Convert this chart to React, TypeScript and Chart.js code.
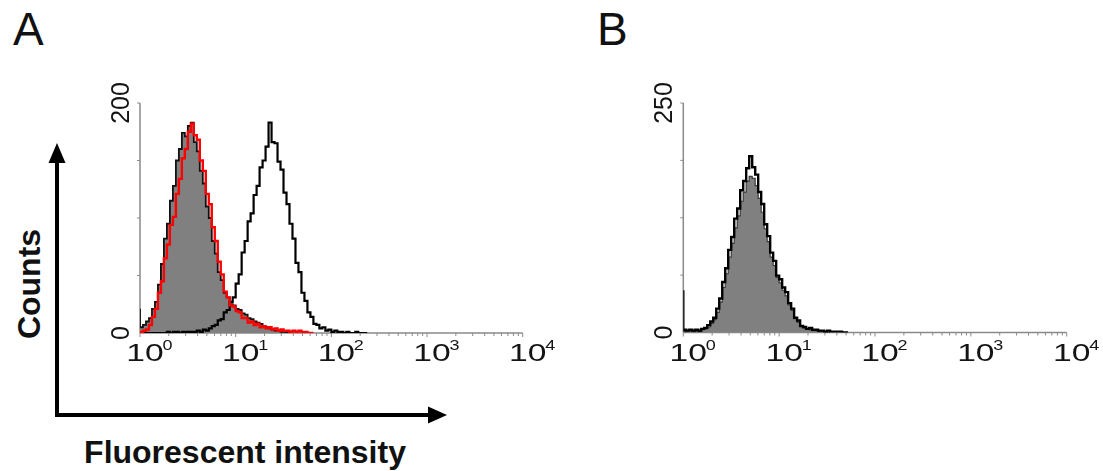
import { useEffect, useRef } from "react";
import { Chart, registerables } from "chart.js";

Chart.register(...registerables);

// Histogram channels: 32 bins per decade, starting at 10^0.
const BINS_PER_DECADE = 32;
const DECADE_VALUES = [1, 10, 100, 1000, 10000];
const DECADE_EXPONENTS = ["0", "1", "2", "3", "4"];

// Panel A
const A_Y_MAX = 200;
const A_FILLED = [
  21, 5, 7, 10, 13, 21, 27, 42, 60, 82, 95, 115, 128, 150, 160, 174, 171, 180, 183, 166,
  158, 141, 130, 110, 100, 80, 69, 53, 46, 35, 31, 25, 24, 21, 20, 17, 16, 13, 12, 10,
  9, 8, 6, 5, 4, 3, 2, 2, 1, 1, 0,
];
const A_RED = [
  1, 1, 2, 3, 7, 14, 21, 35, 45, 65, 77, 94, 101, 121, 134, 152, 160, 175, 182, 172,
  168, 150, 141, 121, 112, 92, 80, 62, 51, 36, 31, 24, 23, 19, 18, 13, 13, 9, 10, 7,
  8, 5, 6, 4, 5, 3, 4, 2, 3, 2, 2, 1, 2, 1, 2, 1, 1, 0,
];
const A_OPEN = [
  0, 0, 0, 0, 0, 0, 0, 0, 0, 0, 1, 0, 1, 1, 0, 1, 1, 1, 1, 1,
  2, 1, 3, 2, 4, 6, 7, 11, 12, 18, 20, 27, 31, 43, 51, 70, 80, 97, 104, 120,
  128, 144, 150, 162, 183, 166, 165, 149, 142, 122, 112, 95, 82, 61, 53, 35, 28, 18, 14, 8,
  7, 4, 5, 2, 3, 1, 2, 1, 1, 0, 1, 0, 0, 1, 0, 0,
];

// Panel B
const B_Y_MAX = 250;
const B_FILLED = [
  0, 1, 2, 2, 1, 2, 1, 3, 4, 6, 10, 14, 22, 33, 49, 64, 82, 97, 114, 127,
  143, 153, 165, 170, 168, 160, 146, 131, 113, 99, 82, 73, 60, 54, 46, 40, 30, 24, 15, 11,
  7, 5, 4, 3, 2, 2, 1, 1, 0,
];
const B_OPEN = [
  46, 3, 2, 3, 2, 3, 2, 4, 5, 8, 12, 16, 26, 37, 55, 70, 90, 104, 124, 135,
  155, 165, 179, 192, 180, 172, 153, 140, 118, 105, 87, 78, 62, 58, 49, 44, 32, 26, 16, 13,
  7, 6, 4, 5, 3, 3, 2, 2, 1, 2, 1, 1, 1, 1, 0,
];

const binStart = (i: number) => Math.pow(10, i / BINS_PER_DECADE);

const toSteps = (values: number[]) => [
  ...values.map((v, i) => ({ x: binStart(i), y: v })),
  { x: binStart(values.length), y: 0 },
];

const FONT = '"Liberation Sans", Arial, sans-serif';

// Draws the cytometry-style axes: thin grey spines, log minor ticks and 10^n labels.
const flowAxes = {
  id: "flowAxes",
  beforeDatasetsDraw(chart: any, _args: any, opts: any) {
    const { ctx, chartArea: a } = chart;
    const x = chart.scales.x;
    const y = chart.scales.y;
    const yMax: number = opts.yMax;
    const y0 = y.getPixelForValue(0);
    const yTop = y.getPixelForValue(yMax);
    const xEnd = x.getPixelForValue(10000);

    ctx.save();
    ctx.strokeStyle = "#8a8a8a";
    ctx.lineWidth = 1.5;
    ctx.beginPath();
    ctx.moveTo(a.left, y0);
    ctx.lineTo(a.left, yTop);
    ctx.moveTo(a.left, y0);
    ctx.lineTo(xEnd, y0);
    ctx.stroke();

    ctx.lineWidth = 1;
    ctx.beginPath();
    for (let k = 1; k <= 4; k++) {
      const py = y.getPixelForValue((yMax * k) / 4);
      ctx.moveTo(a.left - 3, py);
      ctx.lineTo(a.left, py);
    }
    for (let d = 0; d < 4; d++) {
      for (let m = 1; m <= 9; m++) {
        const px = x.getPixelForValue(Math.pow(10, d) * m);
        ctx.moveTo(px, y0);
        ctx.lineTo(px, y0 + (m === 1 ? 4 : 3));
      }
    }
    ctx.moveTo(xEnd, y0);
    ctx.lineTo(xEnd, y0 + 4);
    ctx.stroke();

    ctx.fillStyle = "#141414";
    // decade labels
    DECADE_VALUES.forEach((v, i) => {
      const px = x.getPixelForValue(v);
      ctx.save();
      ctx.translate(px + 5, y0 + 28);
      ctx.scale(1.4, 1);
      ctx.font = `24px ${FONT}`;
      ctx.textAlign = "center";
      ctx.textBaseline = "alphabetic";
      ctx.fillText("10", 0, 0);
      ctx.restore();
      ctx.save();
      ctx.translate(px + 22.5, y0 + 17);
      ctx.scale(1.2, 1);
      ctx.font = `15px ${FONT}`;
      ctx.textAlign = "left";
      ctx.textBaseline = "alphabetic";
      ctx.fillText(DECADE_EXPONENTS[i], 0, 0);
      ctx.restore();
    });

    // count labels, rotated
    [0, yMax].forEach((v) => {
      const py = y.getPixelForValue(v);
      ctx.save();
      ctx.translate(a.left - 11, py);
      ctx.rotate(-Math.PI / 2);
      ctx.font = `25px ${FONT}`;
      ctx.textAlign = "center";
      ctx.textBaseline = "alphabetic";
      ctx.fillText(String(v), 0, 0);
      ctx.restore();
    });
    ctx.restore();
  },
};

type Series = { values: number[]; color: string; width: number; fill?: string };

function Histogram(props: {
  left: number;
  top: number;
  width: number;
  height: number;
  padding: { left: number; right: number; top: number; bottom: number };
  yMax: number;
  series: Series[];
}) {
  const ref = useRef<HTMLCanvasElement | null>(null);
  useEffect(() => {
    if (!ref.current) return;
    const n = props.series.length;
    const chart = new Chart(ref.current, {
      type: "line",
      data: {
        // later series are painted above earlier ones
        datasets: props.series.map((s, i) => ({
          data: toSteps(s.values),
          order: n - i,
          borderColor: s.color,
          borderWidth: s.width,
          backgroundColor: s.fill ?? "transparent",
          fill: s.fill ? "origin" : false,
          stepped: "after" as const,
          pointRadius: 0,
          tension: 0,
        })),
      },
      options: {
        animation: false,
        responsive: false,
        events: [],
        layout: { padding: props.padding },
        plugins: {
          legend: { display: false },
          tooltip: { enabled: false },
          flowAxes: { yMax: props.yMax },
        } as any,
        scales: {
          x: { type: "logarithmic", min: 1, max: 10000, display: false },
          y: { type: "linear", min: 0, max: props.yMax, display: false },
        },
      },
      plugins: [flowAxes],
    });
    return () => chart.destroy();
  }, []);
  return (
    <canvas
      ref={ref}
      width={props.width}
      height={props.height}
      style={{
        position: "absolute",
        left: props.left,
        top: props.top,
        width: props.width,
        height: props.height,
      }}
    />
  );
}

export default function App() {
  return (
    <div
      style={{
        position: "absolute",
        left: 0,
        top: 0,
        width: 1103,
        height: 471,
        background: "#fff",
        overflow: "hidden",
      }}
    >
      <svg
        width={1103}
        height={471}
        style={{ position: "absolute", left: 0, top: 0 }}
        fontFamily={FONT}
      >
        <text x={13} y={45} fontSize={46} fill="#111">A</text>
        <text x={597} y={45} fontSize={46} fill="#111">B</text>
        <text
          transform="translate(39.5,284) rotate(-90)"
          textAnchor="middle"
          fontSize={32}
          fontWeight="bold"
          fill="#111"
        >
          Counts
        </text>
        <text x={245} y={463} textAnchor="middle" fontSize={32} fontWeight="bold" fill="#111">
          Fluorescent intensity
        </text>
        <g stroke="#000" strokeWidth={4} fill="none">
          <line x1={57} y1={417} x2={57} y2={158} />
          <line x1={55} y1={415} x2={432} y2={415} />
        </g>
        <polygon points="57,143 48.5,163 65.5,163" fill="#000" />
        <polygon points="447,415 428,406.5 428,423.5" fill="#000" />
      </svg>
      <Histogram
        left={100}
        top={70}
        width={460}
        height={300}
        padding={{ left: 40, top: 33, right: 37.3, bottom: 37 }}
        yMax={A_Y_MAX}
        series={[
          { values: A_FILLED, color: "#111", width: 1.8, fill: "#808080" },
          { values: A_OPEN, color: "#000", width: 2.2 },
          { values: A_RED, color: "#ff0000", width: 2.4 },
        ]}
      />
      <Histogram
        left={640}
        top={70}
        width={460}
        height={300}
        padding={{ left: 43.3, top: 33, right: 33.3, bottom: 37.5 }}
        yMax={B_Y_MAX}
        series={[
          { values: B_FILLED, color: "#3a3a3a", width: 1.2, fill: "#808080" },
          { values: B_OPEN, color: "#000", width: 2.4 },
        ]}
      />
    </div>
  );
}
